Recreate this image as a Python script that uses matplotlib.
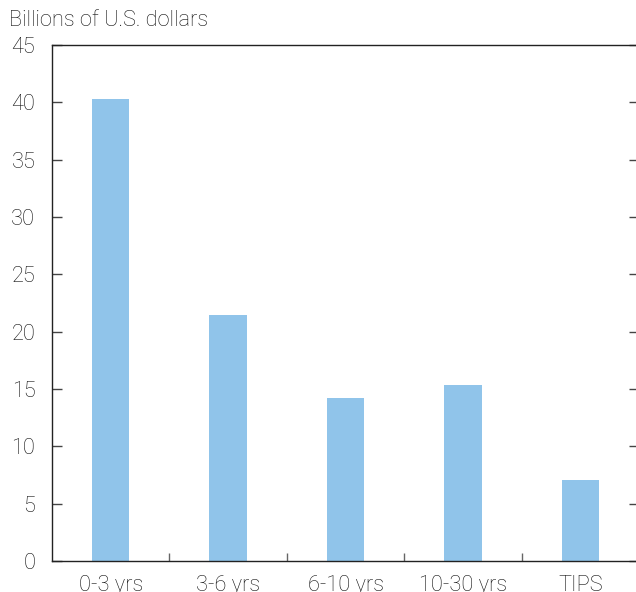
import numpy as np
import matplotlib.pyplot as plt
from matplotlib.ticker import FixedLocator

categories = ["0-3 yrs", "3-6 yrs", "6-10 yrs", "10-30 yrs", "TIPS"]
values = [40.3, 21.45, 14.2, 15.35, 7.06]
yticks = [0, 5, 10, 15, 20, 25, 30, 35, 40, 45]

plt.rcParams['font.family'] = ['Roboto', 'DejaVu Sans']
fs = 15.7

fig = plt.figure(figsize=(6.36, 5.92), dpi=100)
ax = fig.add_axes([52/636, 31/592, 587/636, 516/592])

x = np.arange(len(categories))
ax.bar(x, values, width=0.32, color="#90c4ea")

ax.set_xlim(-0.5, len(categories) - 0.5)
ax.set_ylim(0, 45)
ax.set_yticks(yticks)
ax.set_xticks(x)
ax.set_xticklabels(categories)
ax.xaxis.set_minor_locator(FixedLocator(x[:-1] + 0.5))

ax.tick_params(axis='x', which='major', length=0, pad=10, labelsize=fs)
ax.tick_params(axis='x', which='minor', direction='in', length=6, color='#666666', width=1)
ax.tick_params(axis='y', direction='in', length=7, width=1, labelsize=fs, pad=12,
               right=True, color='#444444')
for lab in ax.get_xticklabels() + ax.get_yticklabels():
    lab.set_fontweight('light')
    lab.set_color('#111111')

for s in ax.spines.values():
    s.set_color('#222222')
    s.set_linewidth(1)

fig.text(9/636, 1 - 20/592, "Billions of U.S. dollars", fontsize=fs, fontweight='light',
         color='#111111', va='center', ha='left')

fig.savefig("out.png", dpi=100)
